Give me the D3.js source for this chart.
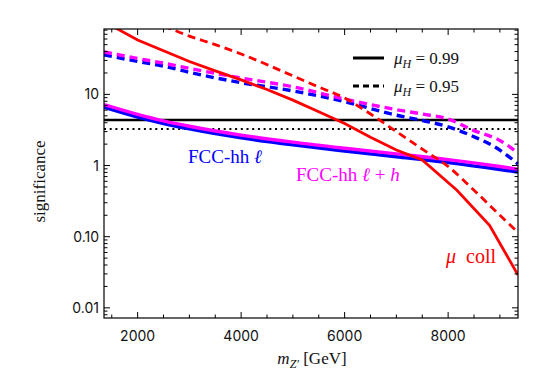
<!DOCTYPE html>
<html>
<head>
<meta charset="utf-8">
<script src="https://cdn.jsdelivr.net/npm/d3@7"></script>
<style>
  body { margin: 0; background: #fff; }
  svg { display: block; }
  .tick-label { font-family: Inter, Roboto, sans-serif; font-size: 14px; fill: #111; }
  .serif { font-family: "Liberation Serif", "DejaVu Serif", serif; }
</style>
</head>
<body>
<svg id="chart" width="556" height="386"></svg>
<script>
// --- data (mZ' in GeV, significance) ---
const mRedSolid = [1350, 1500, 2000, 2500, 3000, 3500, 4000, 4500, 5000, 5500, 6000, 6500, 7000, 7500, 8170, 8800, 9350];
const vRedSolid = [125, 92, 58, 41, 29, 21.4, 16, 11.7, 8.3, 5.7, 3.9, 2.5, 1.65, 1.2, 0.45, 0.145, 0.029];

const mRedDash = [2500, 3000, 3500, 4000, 4500, 5000, 5500, 6000, 6500, 7000, 7500, 8000, 8500, 9000, 9350];
const vRedDash = [92, 66, 50, 37, 26.2, 18.2, 12.7, 8.9, 5.3, 3.0, 1.7, 0.97, 0.45, 0.2, 0.115];

const mFcc = [1350, 2000, 2500, 3000, 4000, 5000, 6000, 7000, 8000, 9000, 9350];
const vBlueSolid = [6.6, 4.8, 3.9, 3.27, 2.45, 1.95, 1.6, 1.33, 1.1, 0.88, 0.81];
const vMagSolid = [7.2, 5.25, 4.25, 3.57, 2.68, 2.13, 1.75, 1.46, 1.21, 0.97, 0.89];

const mFccDash = [1350, 2000, 2500, 3000, 4000, 5000, 6000, 7000, 7500, 8000, 8500, 9000, 9350];
const vBlueDash = [36, 29, 25, 20.4, 14.6, 11.2, 7.9, 5.1, 4.3, 3.5, 2.54, 1.65, 1.05];
const vMagDash = [39.5, 32, 27.5, 23.2, 17, 12.8, 8.6, 6.1, 5.3, 4.5, 3.1, 2.25, 1.5];

const refSolid = 4.35;  // black solid line
const refDotted = 3.25; // black dotted line

const xTicks = [2000, 4000, 6000, 8000];
const yTicks = [0.01, 0.1, 1, 10];
const yTickLabels = ["0.01", "0.10", "1", "10"];

// --- layout ---
const svg = d3.select("#chart");
const pL = 104, pR = 518, pT = 29, pB = 318;

const x = d3.scaleLinear().domain([1350, 9350]).range([pL, pR]);
const y = d3.scaleLog().domain([0.0072, 83]).range([pB, pT]);

svg.append("clipPath").attr("id", "clip")
  .append("rect").attr("x", pL).attr("y", pT).attr("width", pR - pL).attr("height", pB - pT);

const plot = svg.append("g").attr("clip-path", "url(#clip)");

const line = d3.line().x(d => x(d[0])).y(d => y(d[1])).curve(d3.curveMonotoneX);
const straight = d3.line().x(d => x(d[0])).y(d => y(d[1]));
const zip = (ms, vs) => ms.map((m, i) => [m, vs[i]]);

// reference lines
plot.append("line")
  .attr("x1", pL).attr("x2", pR)
  .attr("y1", y(refSolid)).attr("y2", y(refSolid))
  .attr("stroke", "#000").attr("stroke-width", 2.5);
plot.append("line")
  .attr("x1", pL).attr("x2", pR)
  .attr("y1", y(refDotted)).attr("y2", y(refDotted))
  .attr("stroke", "#000").attr("stroke-width", 2).attr("stroke-dasharray", "2,3.7");

const series = [
  { d: zip(mFccDash, vBlueDash), c: "#0000ff", dash: "8,5", w: 3.4, curve: true },
  { d: zip(mFccDash, vMagDash), c: "#ff00ff", dash: "8,5", w: 3.4, curve: true },
  { d: zip(mFcc, vBlueSolid), c: "#0000ff", dash: null, w: 3.4, curve: true },
  { d: zip(mFcc, vMagSolid), c: "#ff00ff", dash: null, w: 3.4, curve: true },
  { d: zip(mRedDash, vRedDash), c: "#ff0000", dash: "8,5", w: 2.8, curve: true },
  { d: zip(mRedSolid, vRedSolid), c: "#ff0000", dash: null, w: 2.8, curve: false }
];

series.forEach(s => {
  plot.append("path")
    .attr("d", (s.curve ? line : straight)(s.d))
    .attr("fill", "none")
    .attr("stroke", s.c)
    .attr("stroke-width", s.w)
    .attr("stroke-dasharray", s.dash);
});

// --- frame and ticks ---
const axes = svg.append("g").attr("stroke", "#000");
axes.append("rect")
  .attr("x", pL).attr("y", pT).attr("width", pR - pL).attr("height", pB - pT)
  .attr("fill", "none").attr("stroke-width", 1.2);

const xMinor = d3.range(1500, 9351, 500).filter(v => !xTicks.includes(v));
xTicks.forEach(v => {
  axes.append("line").attr("x1", x(v)).attr("x2", x(v)).attr("y1", pB).attr("y2", pB - 6);
  axes.append("line").attr("x1", x(v)).attr("x2", x(v)).attr("y1", pT).attr("y2", pT + 6);
});
xMinor.forEach(v => {
  axes.append("line").attr("x1", x(v)).attr("x2", x(v)).attr("y1", pB).attr("y2", pB - 3.5);
  axes.append("line").attr("x1", x(v)).attr("x2", x(v)).attr("y1", pT).attr("y2", pT + 3.5);
});

const yMinor = [];
[0.001, 0.01, 0.1, 1, 10].forEach(dec => {
  for (let k = 2; k <= 9; k++) {
    const v = dec * k;
    if (v > 0.0072 && v < 83) yMinor.push(v);
  }
});
yTicks.forEach(v => {
  axes.append("line").attr("x1", pL).attr("x2", pL + 6).attr("y1", y(v)).attr("y2", y(v));
  axes.append("line").attr("x1", pR).attr("x2", pR - 6).attr("y1", y(v)).attr("y2", y(v));
});
yMinor.forEach(v => {
  axes.append("line").attr("x1", pL).attr("x2", pL + 3.5).attr("y1", y(v)).attr("y2", y(v));
  axes.append("line").attr("x1", pR).attr("x2", pR - 3.5).attr("y1", y(v)).attr("y2", y(v));
});
axes.selectAll("line").attr("stroke-width", 1);

// tick labels
xTicks.forEach(v => {
  svg.append("text").attr("class", "tick-label")
    .attr("x", x(v)).attr("y", pB + 23).attr("text-anchor", "middle").text(v);
});
yTicks.forEach((v, i) => {
  svg.append("text").attr("class", "tick-label")
    .attr("x", pL - 5).attr("y", y(v) + 5).attr("text-anchor", "end").text(yTickLabels[i]);
});

// axis titles
const xt = svg.append("text").attr("class", "serif")
  .attr("x", 312).attr("y", 364).attr("text-anchor", "middle").attr("font-size", 17).attr("fill", "#111");
xt.append("tspan").attr("font-style", "italic").text("m");
xt.append("tspan").attr("font-style", "italic").attr("font-size", 12).attr("dy", 4).text("Z′");
xt.append("tspan").attr("dy", -4).text("  [GeV]");

svg.append("text").attr("class", "serif")
  .attr("transform", `translate(45,${(pT + pB) / 2 + 8}) rotate(-90)`)
  .attr("text-anchor", "middle").attr("font-size", 17).attr("fill", "#111")
  .text("significance");

// legend
const legendItems = [
  { label: "0.99", dash: null, yy: 58 },
  { label: "0.95", dash: "6,4", yy: 86 }
];
legendItems.forEach(it => {
  svg.append("line")
    .attr("x1", 353).attr("x2", 384).attr("y1", it.yy).attr("y2", it.yy)
    .attr("stroke", "#000").attr("stroke-width", 3).attr("stroke-dasharray", it.dash);
  const t = svg.append("text").attr("class", "serif")
    .attr("x", 394).attr("y", it.yy + 6).attr("font-size", 17).attr("fill", "#111");
  t.append("tspan").attr("font-style", "italic").text("μ");
  t.append("tspan").attr("font-style", "italic").attr("font-size", 12).attr("dy", 4).text("H");
  t.append("tspan").attr("dy", -4).text(" = " + it.label);
});

// curve labels
const lab1 = svg.append("text").attr("class", "serif")
  .attr("x", 188).attr("y", 163).attr("font-size", 19).attr("fill", "#0000ff");
lab1.append("tspan").text("FCC-hh ");
lab1.append("tspan").attr("font-style", "italic").text("ℓ");

const lab2 = svg.append("text").attr("class", "serif")
  .attr("x", 296).attr("y", 181).attr("font-size", 19).attr("fill", "#ff00ff");
lab2.append("tspan").text("FCC-hh ");
lab2.append("tspan").attr("font-style", "italic").text("ℓ");
lab2.append("tspan").text(" + ");
lab2.append("tspan").attr("font-style", "italic").text("h");

const lab3 = svg.append("text").attr("class", "serif")
  .attr("y", 263).attr("font-size", 20).attr("fill", "#ff0000");
lab3.append("tspan").attr("x", 446).attr("font-style", "italic").text("μ");
lab3.append("tspan").attr("x", 466).text("coll");
</script>
</body>
</html>
